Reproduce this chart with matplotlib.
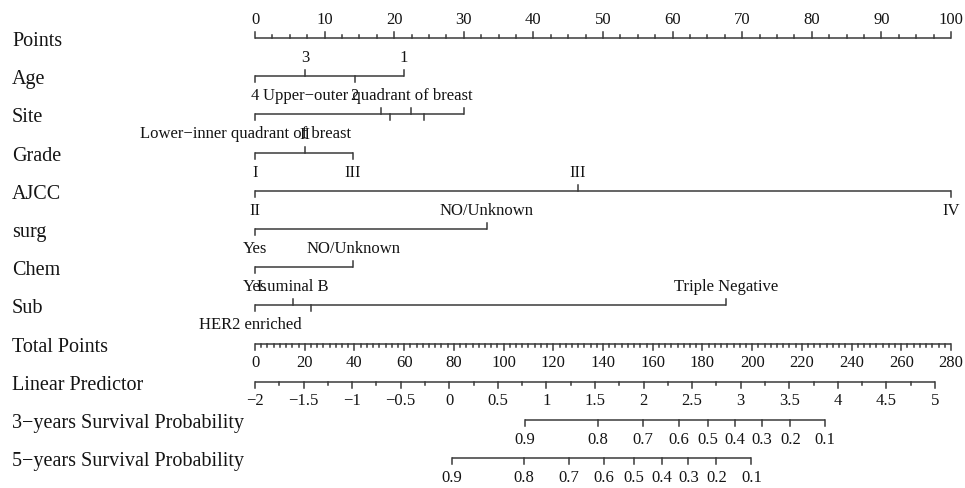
import matplotlib
matplotlib.use('Agg')
import numpy as np
import matplotlib.pyplot as plt

plt.rcParams['font.family'] = ['Liberation Serif', 'DejaVu Serif']

# ---- data ----
row_names = ['Points', 'Age', 'Site', 'Grade', 'AJCC', 'surg', 'Chem', 'Sub',
             'Total Points', 'Linear Predictor',
             '3\u2212years Survival Probability', '5\u2212years Survival Probability']

age_levels = ['4', '3', '2', '1']
age_points = [0, 7.2, 14.3, 21.4]

site_levels = ['Lower\u2212inner quadrant of breast', 'Upper\u2212outer quadrant of breast', '', '', '', '']
site_points = [0, 18.1, 19.4, 22.4, 24.3, 30.1]

grade_levels = ['I', 'II', 'III']
grade_points = [0, 7.2, 14.1]

ajcc_levels = ['II', 'III', 'IV']
ajcc_points = [0, 46.4, 100]

surg_levels = ['Yes', 'NO/Unknown']
surg_points = [0, 33.3]

chem_levels = ['Yes', 'NO/Unknown']
chem_points = [0, 14.1]

sub_levels = ['HER2 enriched', 'Luminal B', '', 'Triple Negative']
sub_points = [0, 5.4, 8.0, 67.7]

total_max = 280
lp_min, lp_max = -2, 5
tp_per_lp = 39.08  # total points per unit of linear predictor

surv3_probs = [0.9, 0.8, 0.7, 0.6, 0.5, 0.4, 0.3, 0.2, 0.1]
surv3_lp = [0.78, 1.53, 1.99, 2.36, 2.66, 2.94, 3.22, 3.51, 3.87]

surv5_probs = [0.9, 0.8, 0.7, 0.6, 0.5, 0.4, 0.3, 0.2, 0.1]
surv5_lp = [0.03, 0.77, 1.23, 1.59, 1.90, 2.19, 2.46, 2.75, 3.11]

# small horizontal nudges (points units) for a few long labels
nudge = {'Lower\u2212inner quadrant of breast': -1.4,
         'Upper\u2212outer quadrant of breast': -1.9,
         'HER2 enriched': -0.7}

# ---- layout ----
W, H = 965, 489
fig = plt.figure(figsize=(W / 100, H / 100), dpi=100)
ax = fig.add_axes([0, 0, 1, 1])
px_per_pt = 6.96
x0 = 255
ax.set_xlim(-x0 / px_per_pt, (W - x0) / px_per_pt)
ax.set_ylim(H, 0)
ax.axis('off')

line_c = '#3a3a3a'
text_c = '#141414'
lw = 1.1
fs_row = 14.5
fs_tick = 12
y_first, dy = 39, 38.2
lab_off = 19


def row_y(i):
    return y_first + i * dy


def tp2pts(tp):
    return np.asarray(tp) * 100.0 / total_max


def lp2pts(lp):
    return tp2pts((np.asarray(lp) - lp_min) * tp_per_lp)


def fmt(v):
    return ('%g' % v).replace('-', '\u2212')


for i, name in enumerate(row_names):
    ax.text(-x0 / px_per_pt + 12 / px_per_pt, row_y(i) + 2.5, name, fontsize=fs_row,
            color=text_c, va='center', ha='left')


def draw_var(i, levels, pts):
    y = row_y(i)
    ax.plot([min(pts), max(pts)], [y, y], color=line_c, lw=lw, solid_capstyle='butt')
    order = np.argsort(pts)
    for k, j in enumerate(order):
        above = k % 2 == 1
        sgn = -1 if above else 1
        ax.plot([pts[j], pts[j]], [y, y + sgn * 6], color=line_c, lw=lw)
        lab = levels[j]
        if lab:
            ax.text(pts[j] + nudge.get(lab, 0), y + sgn * lab_off, lab, fontsize=fs_tick,
                    color=text_c, ha='center', va='center')


def draw_scale(i, xs, major, labels, up):
    y = row_y(i)
    sgn = -1 if up else 1
    ax.plot([min(xs), max(xs)], [y, y], color=line_c, lw=lw, solid_capstyle='butt')
    for x, m in zip(xs, major):
        ax.plot([x, x], [y, y + sgn * (6 if m else 3)], color=line_c, lw=lw)
    for x, lab in labels:
        ax.text(x, y + sgn * (lab_off - 0.5), lab, fontsize=fs_tick, color=text_c,
                ha='center', va='center')


# Points
p_ticks = np.arange(0, 100.01, 2.5)
draw_scale(0, p_ticks, [t % 10 == 0 for t in p_ticks],
           [(t, fmt(t)) for t in range(0, 101, 10)], up=True)

draw_var(1, age_levels, age_points)
draw_var(2, site_levels, site_points)
draw_var(3, grade_levels, grade_points)
draw_var(4, ajcc_levels, ajcc_points)
draw_var(5, surg_levels, surg_points)
draw_var(6, chem_levels, chem_points)
draw_var(7, sub_levels, sub_points)

# Total points
tp_ticks = np.arange(0, total_max + 0.01, 2.5)
draw_scale(8, tp2pts(tp_ticks), [t % 20 == 0 for t in tp_ticks],
           [(tp2pts(t), fmt(t)) for t in range(0, total_max + 1, 20)], up=False)

# Linear predictor
lp_ticks = np.arange(lp_min, lp_max + 0.001, 0.25)
draw_scale(9, lp2pts(lp_ticks), [abs(t * 2 - round(t * 2)) < 1e-9 for t in lp_ticks],
           [(lp2pts(t), fmt(t)) for t in np.arange(lp_min, lp_max + 0.001, 0.5)], up=False)

# survival probabilities
draw_scale(10, lp2pts(surv3_lp), [True] * len(surv3_lp),
           [(lp2pts(l), fmt(p)) for l, p in zip(surv3_lp, surv3_probs)], up=False)
draw_scale(11, lp2pts(surv5_lp), [True] * len(surv5_lp),
           [(lp2pts(l), fmt(p)) for l, p in zip(surv5_lp, surv5_probs)], up=False)

fig.savefig('out.png', dpi=100)
